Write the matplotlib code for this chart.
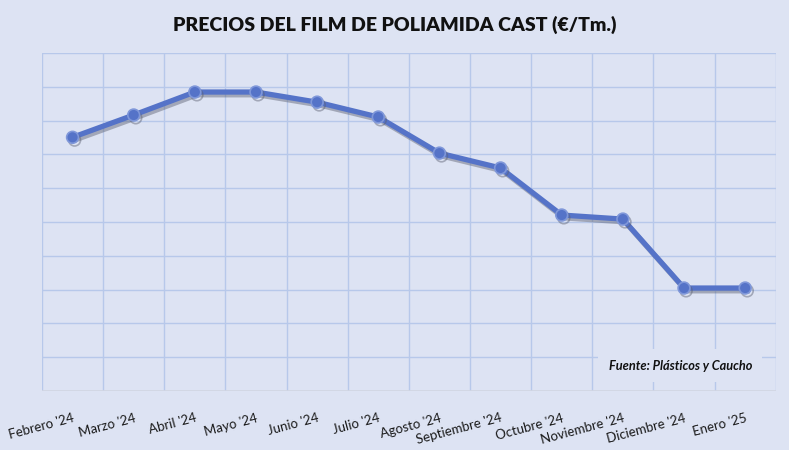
import numpy as np
import matplotlib.pyplot as plt
import matplotlib.patheffects as pe

months = ["Febrero '24", "Marzo '24", "Abril '24", "Mayo '24", "Junio '24", "Julio '24",
          "Agosto '24", "Septiembre '24", "Octubre '24", "Noviembre '24", "Diciembre '24", "Enero '25"]
prices = [3877, 4042, 4212, 4212, 4137, 4027, 3760, 3650, 3302, 3272, 2762, 2762]
y_min, y_max, y_step = 2000, 4500, 250

bg = "#dde3f3"
grid_col = "#b7c8ea"
line_col = "#5573c8"

plt.rcParams['font.family'] = ['Lato', 'DejaVu Sans']

fig = plt.figure(figsize=(7.89, 4.5), dpi=100, facecolor=bg)
ax = fig.add_axes([0.0532, 0.131, 0.93, 0.751], facecolor=bg)

x = np.arange(len(months))
shadow = [pe.SimpleLineShadow(offset=(1.5, -2), shadow_color="#5a5f70", alpha=0.45), pe.Normal()]
ax.plot(x, prices, color=line_col, lw=3.8, marker="o", ms=8.5,
        mfc=line_col, mec="#7f97d9", mew=1.2, zorder=3, path_effects=shadow)

ax.set_xlim(-0.5, len(months) - 0.5)
ax.set_ylim(y_min, y_max)
ax.set_yticks(np.arange(y_min, y_max + 1, y_step))
ax.set_xticks(np.arange(-0.5, len(months), 1), minor=False)
ax.set_xticklabels([])
ax.set_xticks(x, minor=True)
ax.set_xticklabels(months, minor=True, rotation=15, ha="right", rotation_mode="anchor",
                   fontsize=9.5, color="#1a1a1a")
ax.tick_params(axis="x", which="both", length=0, pad=15)
ax.tick_params(axis="y", length=0, labelleft=False)
ax.grid(True, which="major", color=grid_col, lw=1.0)
for s in ax.spines.values():
    s.set_visible(False)
ax.axhline(y_min, color="#d2d6e2", lw=1.2, zorder=2)

ax.text(0.87, 0.075, "Fuente: Plásticos y Caucho", transform=ax.transAxes,
        ha="center", va="center", fontsize=9.2, fontweight="bold", fontstyle="italic",
        color="#111111", zorder=5,
        bbox=dict(boxstyle="square,pad=0.8", fc=bg, ec="none"))

fig.text(0.5, 0.945, "PRECIOS DEL FILM DE POLIAMIDA CAST (€/Tm.)", ha="center", va="center",
         fontsize=14, fontweight="heavy", color="#111111")

fig.savefig("out.png", dpi=100, facecolor=bg)
